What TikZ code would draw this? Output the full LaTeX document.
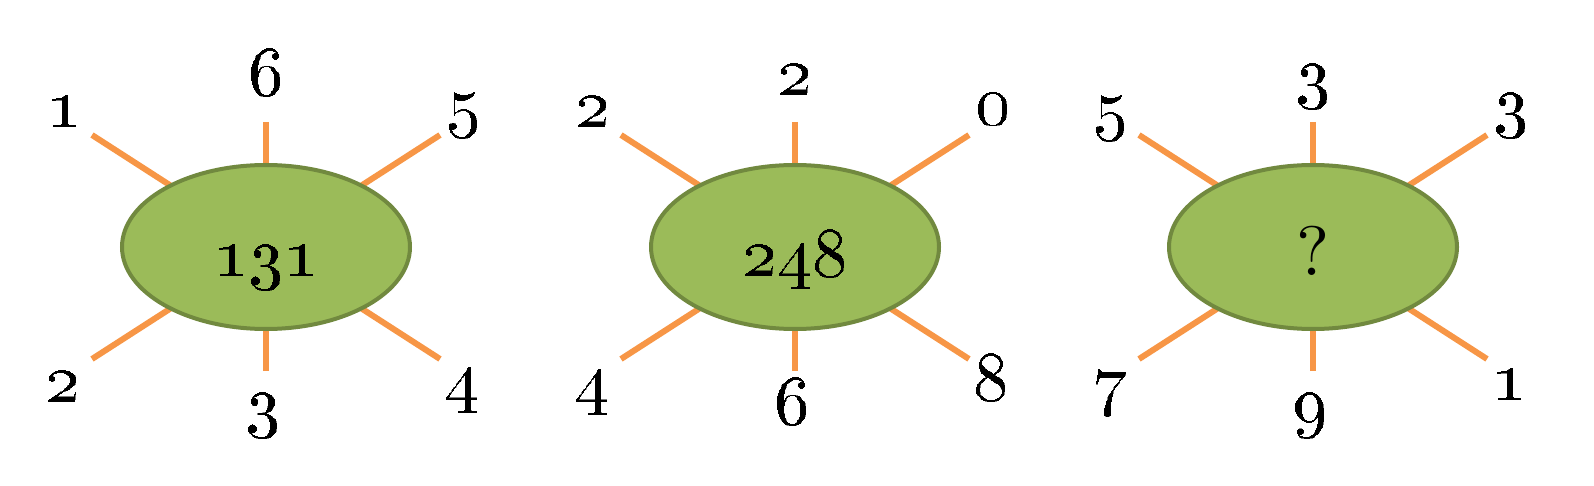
\documentclass[tikz,border=0pt]{standalone}
\usepackage{graphicx}
\usetikzlibrary{shapes.geometric,backgrounds}
\definecolor{spokeorange}{HTML}{F79646}
\definecolor{blobfill}{HTML}{9BBB59}
\definecolor{blobline}{HTML}{71893F}
\newcommand\osn[1]{\scalebox{7}{\fontsize{10}{12}\selectfont\oldstylenums{#1}}}
\newcommand\qmark{\scalebox{7}{\fontsize{10}{12}\selectfont ?}}
\begin{document}
\begin{tikzpicture}[x=1pt,y=-1pt,
  blob/.style={ellipse,draw=blobline,fill=blobfill,line width=4pt,
    minimum width=288pt,minimum height=164pt,inner sep=0pt,outer sep=0pt,
    text height=56pt,text depth=0pt},
  spoke/.style={draw=spokeorange,line width=6pt,shorten >=-8pt},
  num/.style={anchor=base,inner sep=0pt}]
\useasboundingbox (0,0) rectangle (1594,486);
\foreach \cx/\g/\mid/\a/\b/\c/\d/\e/\f in
  {266/1/{\osn{131}}/1/6/5/2/3/4,
   795/2/{\osn{248}}/2/2/0/4/6/8,
   1313/3/{\qmark}/5/3/3/7/9/1}{
  \node[blob] (e\g) at (\cx,247) {\mid};
  \coordinate (t\g)  at (\cx,122);
  \coordinate (b\g)  at (\cx,371);
  \coordinate (tl\g) at (\cx-174,135);
  \coordinate (tr\g) at (\cx+174,135);
  \coordinate (bl\g) at (\cx-174,359);
  \coordinate (br\g) at (\cx+174,359);
  \node[num] (ntl\g) at (\cx-202,127) {\osn{\a}};
  \node[num] (nt\g)  at (\cx,95)      {\osn{\b}};
  \node[num] (ntr\g) at (\cx+198,124) {\osn{\c}};
  \node[num] (nbl\g) at (\cx-203,401) {\osn{\d}};
  \node[num] (nb\g)  at (\cx-3,423)   {\osn{\e}};
  \node[num] (nbr\g) at (\cx+196,399) {\osn{\f}};
  \begin{scope}[on background layer]
    \draw[spoke] (t\g) -- (e\g);
    \draw[spoke] (b\g) -- (e\g);
    \draw[spoke] (tl\g) -- (e\g);
    \draw[spoke] (tr\g) -- (e\g);
    \draw[spoke] (bl\g) -- (e\g);
    \draw[spoke] (br\g) -- (e\g);
  \end{scope}
}
\end{tikzpicture}
\end{document}
